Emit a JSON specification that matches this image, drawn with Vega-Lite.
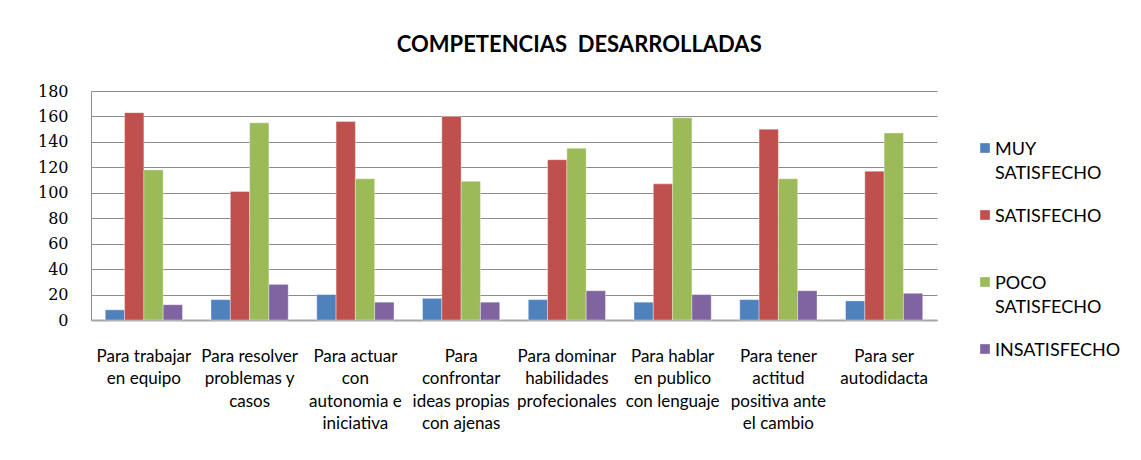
{
  "$schema": "https://vega.github.io/schema/vega-lite/v6.json",
  "width": 846,
  "height": 229,
  "padding": {"left": 37, "top": 34, "right": 5, "bottom": 5},
  "background": "white",
  "title": {
    "text": "COMPETENCIAS\u00a0 DESARROLLADAS",
    "font": "Lato",
    "fontSize": 22,
    "fontWeight": "bold",
    "color": "#000000",
    "anchor": "middle",
    "frame": "bounds",
    "offset": 26
  },
  "data": {
    "values": [
      {"competencia": "Para trabajar\nen equipo", "nivel": "MUY\nSATISFECHO", "valor": 8},
      {"competencia": "Para trabajar\nen equipo", "nivel": "SATISFECHO", "valor": 163},
      {"competencia": "Para trabajar\nen equipo", "nivel": "POCO\nSATISFECHO", "valor": 118},
      {"competencia": "Para trabajar\nen equipo", "nivel": "INSATISFECHO", "valor": 12},
      {"competencia": "Para resolver\nproblemas y\ncasos", "nivel": "MUY\nSATISFECHO", "valor": 16},
      {"competencia": "Para resolver\nproblemas y\ncasos", "nivel": "SATISFECHO", "valor": 101},
      {"competencia": "Para resolver\nproblemas y\ncasos", "nivel": "POCO\nSATISFECHO", "valor": 155},
      {"competencia": "Para resolver\nproblemas y\ncasos", "nivel": "INSATISFECHO", "valor": 28},
      {"competencia": "Para actuar\ncon\nautonomia e\niniciativa", "nivel": "MUY\nSATISFECHO", "valor": 20},
      {"competencia": "Para actuar\ncon\nautonomia e\niniciativa", "nivel": "SATISFECHO", "valor": 156},
      {"competencia": "Para actuar\ncon\nautonomia e\niniciativa", "nivel": "POCO\nSATISFECHO", "valor": 111},
      {"competencia": "Para actuar\ncon\nautonomia e\niniciativa", "nivel": "INSATISFECHO", "valor": 14},
      {"competencia": "Para\nconfrontar\nideas propias\ncon ajenas", "nivel": "MUY\nSATISFECHO", "valor": 17},
      {"competencia": "Para\nconfrontar\nideas propias\ncon ajenas", "nivel": "SATISFECHO", "valor": 160},
      {"competencia": "Para\nconfrontar\nideas propias\ncon ajenas", "nivel": "POCO\nSATISFECHO", "valor": 109},
      {"competencia": "Para\nconfrontar\nideas propias\ncon ajenas", "nivel": "INSATISFECHO", "valor": 14},
      {"competencia": "Para dominar\nhabilidades\nprofecionales", "nivel": "MUY\nSATISFECHO", "valor": 16},
      {"competencia": "Para dominar\nhabilidades\nprofecionales", "nivel": "SATISFECHO", "valor": 126},
      {"competencia": "Para dominar\nhabilidades\nprofecionales", "nivel": "POCO\nSATISFECHO", "valor": 135},
      {"competencia": "Para dominar\nhabilidades\nprofecionales", "nivel": "INSATISFECHO", "valor": 23},
      {"competencia": "Para hablar\nen publico\ncon lenguaje", "nivel": "MUY\nSATISFECHO", "valor": 14},
      {"competencia": "Para hablar\nen publico\ncon lenguaje", "nivel": "SATISFECHO", "valor": 107},
      {"competencia": "Para hablar\nen publico\ncon lenguaje", "nivel": "POCO\nSATISFECHO", "valor": 159},
      {"competencia": "Para hablar\nen publico\ncon lenguaje", "nivel": "INSATISFECHO", "valor": 20},
      {"competencia": "Para tener\nactitud\npositiva ante\nel cambio", "nivel": "MUY\nSATISFECHO", "valor": 16},
      {"competencia": "Para tener\nactitud\npositiva ante\nel cambio", "nivel": "SATISFECHO", "valor": 150},
      {"competencia": "Para tener\nactitud\npositiva ante\nel cambio", "nivel": "POCO\nSATISFECHO", "valor": 111},
      {"competencia": "Para tener\nactitud\npositiva ante\nel cambio", "nivel": "INSATISFECHO", "valor": 23},
      {"competencia": "Para ser\nautodidacta", "nivel": "MUY\nSATISFECHO", "valor": 15},
      {"competencia": "Para ser\nautodidacta", "nivel": "SATISFECHO", "valor": 117},
      {"competencia": "Para ser\nautodidacta", "nivel": "POCO\nSATISFECHO", "valor": 147},
      {"competencia": "Para ser\nautodidacta", "nivel": "INSATISFECHO", "valor": 21}
    ]
  },
  "mark": {"type": "bar"},
  "encoding": {
    "x": {
      "field": "competencia",
      "type": "nominal",
      "sort": null,
      "title": null,
      "scale": {"paddingInner": 0.27, "paddingOuter": 0.135},
      "axis": {
        "labelExpr": "split(datum.value, '\\n')",
        "labelAngle": 0,
        "labelFont": "Lato",
        "labelFontSize": 17,
        "labelColor": "#000000",
        "labelLineHeight": 22.5,
        "labelPadding": 35,
        "labelBaseline": "top",
        "ticks": false,
        "domainColor": "#a6a6a6",
        "domainWidth": 2,
        "grid": false
      }
    },
    "xOffset": {
      "field": "nivel",
      "type": "nominal",
      "sort": ["MUY\nSATISFECHO", "SATISFECHO", "POCO\nSATISFECHO", "INSATISFECHO"],
      "scale": {"paddingInner": 0, "paddingOuter": 0}
    },
    "y": {
      "field": "valor",
      "type": "quantitative",
      "title": null,
      "scale": {"domain": [0, 180], "nice": false},
      "axis": {
        "values": [0, 20, 40, 60, 80, 100, 120, 140, 160, 180],
        "labelFont": "DejaVu Serif",
        "labelFontSize": 16,
        "labelColor": "#000000",
        "labelPadding": 23,
        "labelOffset": 7,
        "ticks": false,
        "domainColor": "#8c8c8c",
        "domainWidth": 1,
        "gridColor": "#8c8c8c",
        "gridWidth": 1
      }
    },
    "color": {
      "field": "nivel",
      "type": "nominal",
      "sort": ["MUY\nSATISFECHO", "SATISFECHO", "POCO\nSATISFECHO", "INSATISFECHO"],
      "scale": {
        "domain": ["MUY\nSATISFECHO", "SATISFECHO", "POCO\nSATISFECHO", "INSATISFECHO"],
        "range": ["#4F81BD", "#C0504D", "#9BBB59", "#8064A2"]
      },
      "legend": {
        "title": null,
        "orient": "none",
        "legendX": 885,
        "legendY": 48,
        "labelExpr": "split(datum.value, '\\n')",
        "labelFont": "Lato",
        "labelFontSize": 18,
        "labelColor": "#000000",
        "labelBaseline": "top",
        "labelOffset": 1,
        "labelLimit": 220,
        "symbolType": "square",
        "symbolSize": 100,
        "symbolStrokeWidth": 0,
        "gridAlign": "all",
        "rowPadding": 23
      }
    }
  },
  "config": {
    "view": {"stroke": null},
    "style": {"guide-label": {"lineHeight": 24, "dy": -7}},
    "bar": {"stroke": "#ffffff", "strokeOpacity": 0.35, "strokeWidth": 1}
  }
}
